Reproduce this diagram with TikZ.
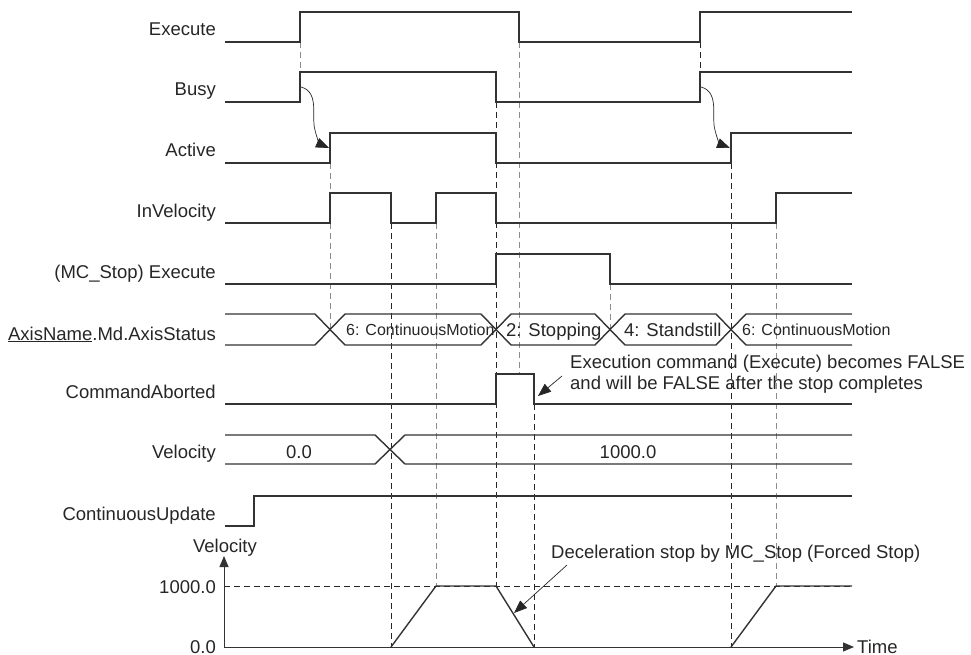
\documentclass[tikz,border=0pt]{standalone}
\usepackage{fontspec}
\setmainfont{Liberation Sans}
\usetikzlibrary{arrows.meta}
\begin{document}
\begin{tikzpicture}[x=1pt,y=-1pt,
  sig/.style={line width=1.4pt, draw=black!80, line join=miter},
  vdark/.style={line width=0.9pt, draw=black!85, dash pattern=on 6pt off 4pt},
  vgrey/.style={line width=1pt, draw=black!45, dash pattern=on 6pt off 4pt},
  lbl/.style={anchor=base east, inner sep=0pt, text=black!85, font=\fontsize{18.5}{21}\selectfont},
  txt/.style={inner sep=0pt, text=black!85, font=\fontsize{18.5}{21}\selectfont},
  smalltxt/.style={inner sep=0pt, text=black!85, font=\fontsize{16}{19}\selectfont},
  callout/.style={line width=0.7pt, draw=black!85, -{Triangle[length=13pt,width=10pt]}},
  axisarrow/.style={line width=1pt, draw=black!80, -{Triangle[length=11pt,width=9pt]}}]
\useasboundingbox (0,0) rectangle (971,655);

% ---------- vertical dashed guide lines ----------
\draw[vgrey] (300,42) -- (300,72);
\draw[vdark] (700,42) -- (700,72);
\draw[vgrey] (519,42) -- (519,374);
\draw[vdark] (496,102) -- (496,586);
\draw[vgrey] (330,163) -- (330,329.5);
\draw[vdark] (731,163) -- (731,647);
\draw[vdark] (391,223) -- (391,647);
\draw[vgrey] (436,223) -- (436,586);
\draw[vgrey] (776,223) -- (776,586);
\draw[vgrey] (610,284) -- (610,329.5);
\draw[vdark] (534,404) -- (534,647);

% ---------- signals ----------
\draw[sig] (225,42) -- (300,42) -- (300,12) -- (519,12) -- (519,42) -- (700,42) -- (700,12) -- (852,12);
\draw[sig] (225,102) -- (300,102) -- (300,72) -- (496,72) -- (496,102) -- (700,102) -- (700,72) -- (852,72);
\draw[sig] (225,163) -- (330,163) -- (330,133) -- (496,133) -- (496,163) -- (731,163) -- (731,133) -- (852,133);
\draw[sig] (225,223) -- (330,223) -- (330,193) -- (391,193) -- (391,223) -- (436,223) -- (436,193) -- (496,193) -- (496,223) -- (776,223) -- (776,193) -- (852,193);
\draw[sig] (225,284) -- (496,284) -- (496,254) -- (610,254) -- (610,284) -- (852,284);
% AxisStatus bus
\draw[sig] (225,314) -- (315,314) -- (345,345) -- (481,345) -- (511,314) -- (595,314) -- (625,345) -- (716,345) -- (746,314) -- (852,314);
\draw[sig] (225,345) -- (315,345) -- (345,314) -- (481,314) -- (511,345) -- (595,345) -- (625,314) -- (716,314) -- (746,345) -- (852,345);
% CommandAborted
\draw[sig] (225,404) -- (496,404) -- (496,374) -- (534,374) -- (534,404) -- (852,404);
% Velocity bus
\draw[sig] (225,435) -- (375,435) -- (405,464) -- (852,464);
\draw[sig] (225,464) -- (375,464) -- (405,435) -- (852,435);
% ContinuousUpdate
\draw[sig] (225,526) -- (254,526) -- (254,496) -- (852,496);

% ---------- labels ----------
\node[lbl] (lExec) at (216,36) {Execute};
\node[lbl] (lBusy) at (216,96) {Busy};
\node[lbl] (lAct) at (216,157) {Active};
\node[lbl] (lInV) at (216,217) {InVelocity};
\node[lbl] (lStop) at (216,278) {(MC\_Stop) Execute};
\node[lbl] (lAxis) at (216,340) {\underline{AxisName}.Md.AxisStatus};
\node[lbl] (lCA) at (216,398) {CommandAborted};
\node[lbl] (lVel) at (216,458) {Velocity};
\node[lbl] (lCU) at (216,520) {ContinuousUpdate};

% state texts
\node[smalltxt, anchor=base west] (s1) at (346,335) {6: ContinuousMotion};
\node[txt, anchor=base west] (s2) at (506,336) {2: Stopping};
\node[txt, anchor=base west] (s3) at (624,336) {4: Standstill};
\node[smalltxt, anchor=base west] (s4) at (742,335) {6: ContinuousMotion};

% velocity values
\node[txt, anchor=base] (v0) at (299,458) {0.0};
\node[txt, anchor=base] (v1) at (628,458) {1000.0};

% ---------- Busy -> Active causal arrows ----------
\coordinate (b1) at (301,87);
\coordinate (a1) at (329,148);
\coordinate (b2) at (701,87);
\coordinate (a2) at (730,148);
\draw[callout] (b1) .. controls (320,92) and (311,118) .. (315,130) .. controls (317,139) and (320,144) .. (a1);
\draw[callout] (b2) .. controls (720,92) and (711,118) .. (715,130) .. controls (717,139) and (720,144) .. (a2);

% ---------- CommandAborted note ----------
\node[txt, anchor=base west] (n1) at (570,368) {Execution command (Execute) becomes FALSE};
\node[txt, anchor=base west] (n2) at (570,389) {and will be FALSE after the stop completes};
\coordinate (n2tail) at (562,376);
\coordinate (caTip) at (538,396);
\draw[callout] (n2tail) -- (caTip);

% ---------- velocity graph ----------
\coordinate (org) at (224,647);
\coordinate (ytop) at (224,556);
\coordinate (xend) at (854,647);
\draw[line width=0.8pt, draw=black!85, dash pattern=on 6pt off 4pt] (224,586) -- (852,586);
\draw[axisarrow] (org) -- (ytop);
\draw[axisarrow] (org) -- (xend);
\draw[sig] (391,647) -- (436,586) -- (496,586) -- (534,647);
\draw[sig] (731,647) -- (776,586) -- (852,586);

\node[txt, anchor=base] (yl) at (225,552) {Velocity};
\node[lbl] (y1000) at (216,593) {1000.0};
\node[lbl] (y0) at (216,653) {0.0};
\node[txt, anchor=base west] (tl) at (857,653) {Time};

\node[txt, anchor=base west] (dnote) at (551,558) {Deceleration stop by MC\_Stop (Forced Stop)};
\coordinate (dtail) at (567,565);
\coordinate (dtip) at (514,613);
\draw[callout] (dtail) -- (dtip);
\end{tikzpicture}
\end{document}
